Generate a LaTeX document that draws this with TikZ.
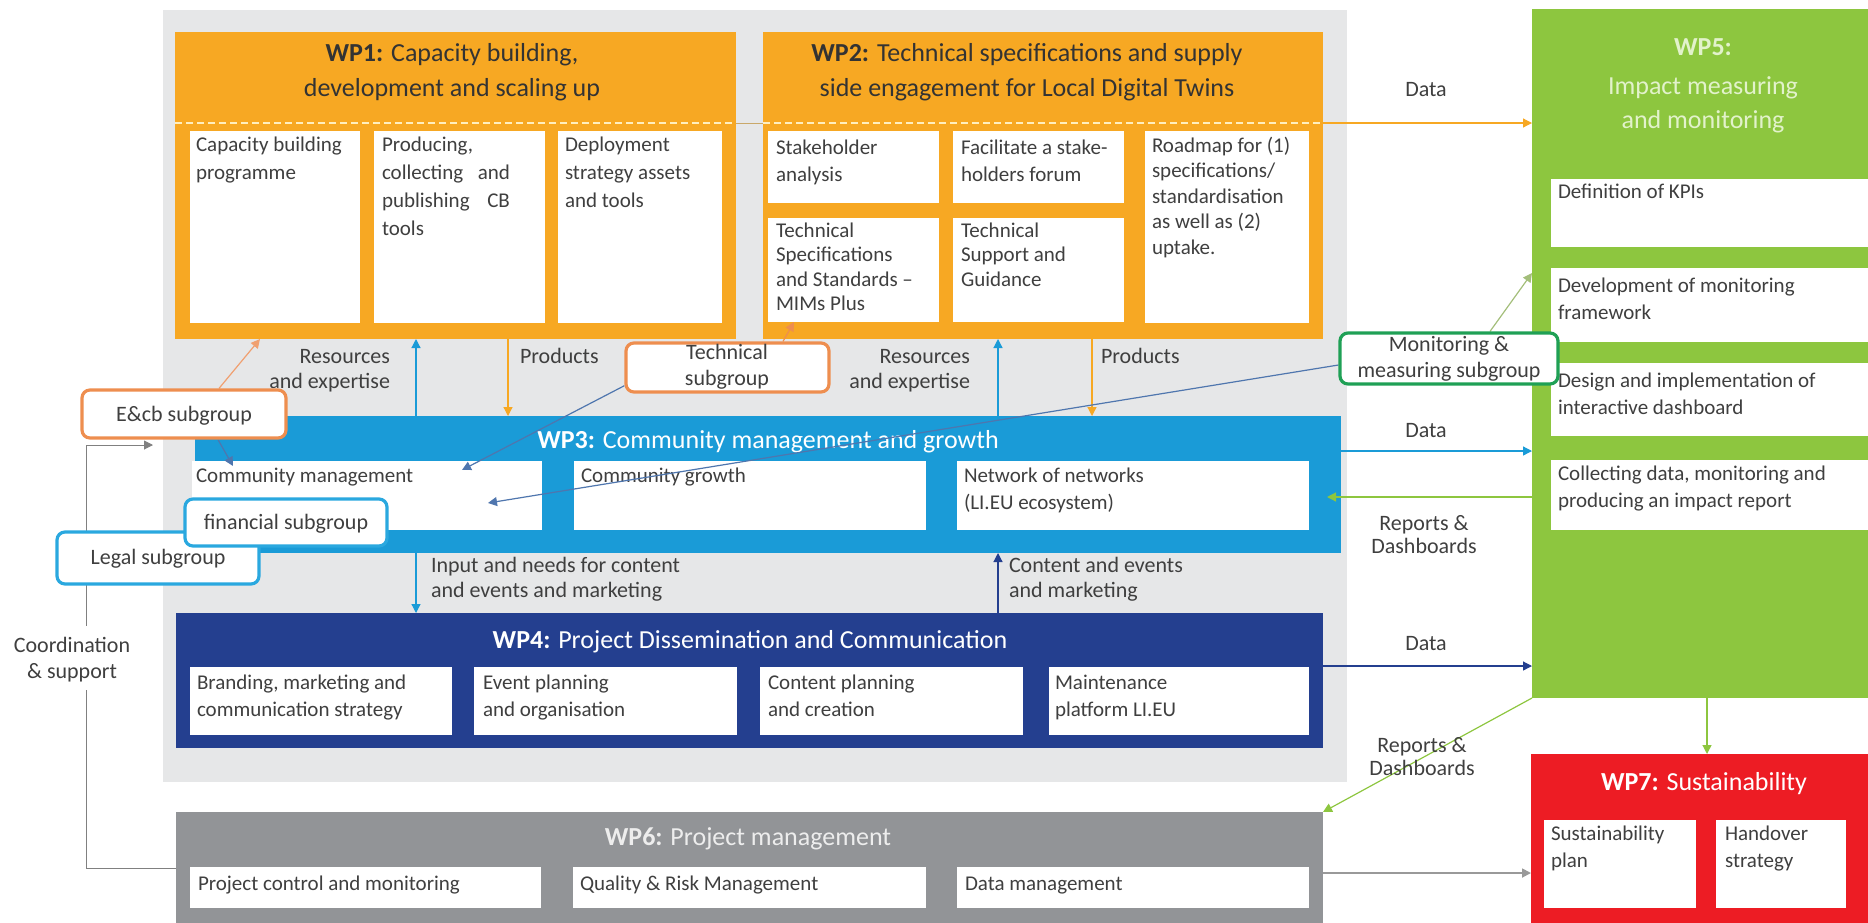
\documentclass[tikz,border=0pt]{standalone}
\usepackage{fontspec}
\setmainfont{Carlito}
\usetikzlibrary{arrows.meta,fit,calc}
\pgfdeclarelayer{front}
\pgfsetlayers{main,front}
\definecolor{wporange}{HTML}{F7A823}
\definecolor{wpblue}{HTML}{1A9BD7}
\definecolor{wpdark}{HTML}{243F8F}
\definecolor{wpgreen}{HTML}{8DC63F}
\definecolor{wpgray}{HTML}{929497}
\definecolor{wpred}{HTML}{ED1C24}
\definecolor{bggray}{HTML}{E6E7E8}
\definecolor{txt}{HTML}{3F3F3F}
\definecolor{ttldark}{HTML}{333333}
\definecolor{sgorange}{HTML}{EE8E4F}
\definecolor{sggreen}{HTML}{1FA055}
\definecolor{sgblue}{HTML}{2AA8DF}
\definecolor{steel}{HTML}{4F76AE}
\definecolor{paleorange}{HTML}{F0A070}
\definecolor{olivegreen}{HTML}{A3BE7A}
\definecolor{linegray}{HTML}{808080}
\definecolor{arrgray}{HTML}{999999}
\definecolor{gapline}{HTML}{C9A86A}
\definecolor{dashcol}{HTML}{FFEFC0}
\definecolor{wp5txt}{HTML}{E2F2CB}
\definecolor{wp6txt}{HTML}{EDEDED}
\newcommand\myrA{\rule{0pt}{8.5pt}}
\newcommand\myrB{\rule{0pt}{9pt}}
\newcommand\myrC{\rule{0pt}{10.5pt}}
\begin{document}
\begin{tikzpicture}[x=0.5pt,y=-0.5pt,
 area/.style={inner sep=0pt, outer sep=0pt, draw=none, rectangle},
 wb/.style={area, fill=white},
 bt/.style={anchor=north west, yshift=8.5pt, inner sep=0pt, outer sep=0pt, align=left, text=txt, font=\fontsize{10.5pt}{13.5pt}\selectfont},
 sp14/.style={font=\fontsize{10.5pt}{14pt}\selectfont},
 sp12/.style={font=\fontsize{10.5pt}{12.25pt}\selectfont},
 sp125/.style={font=\fontsize{10.5pt}{12.75pt}\selectfont},
 lb/.style={anchor=north, yshift=9pt, inner sep=0pt, outer sep=0pt, align=center, text=txt, font=\fontsize{11pt}{12.5pt}\selectfont},
 ttl/.style={anchor=north, yshift=10.5pt, inner sep=0pt, outer sep=0pt, align=center, font=\fontsize{13pt}{17.5pt}\selectfont},
 sg/.style={draw, line width=1.6pt, fill=white, rounded corners=4pt, inner sep=0pt},
 arr/.style={-{Triangle[length=4.5pt,width=4.5pt]}, line width=0.6pt},
]
\useasboundingbox (0,0) rectangle (1868,922);
% work package areas
\node[area, fill=bggray, fit={(163,10) (1347,782)}] (bg) {};
\node[area, fill=wporange, fit={(175,32) (736,339)}] (wp1) {};
\node[area, fill=wporange, fit={(763,32) (1323,339)}] (wp2) {};
\node[area, fill=wpblue, fit={(195,416) (1341,553)}] (wp3) {};
\node[area, fill=wpdark, fit={(176,613) (1323,748)}] (wp4) {};
\node[area, fill=wpgreen, fit={(1532,9) (1880,698)}] (wp5) {};
\node[area, fill=wpgray, fit={(176,812) (1323,935)}] (wp6) {};
\node[area, fill=wpred, fit={(1531,754) (1880,935)}] (wp7) {};
% white boxes
\node[wb, fit={(190,131) (360,323)}] (b11) {};
\node[wb, fit={(374,131) (545,323)}] (b12) {};
\node[wb, fit={(558,131) (722,323)}] (b13) {};
\node[wb, fit={(768,131) (939,203)}] (b21) {};
\node[wb, fit={(953,131) (1124,203)}] (b22) {};
\node[wb, fit={(768,218) (939,322)}] (b23) {};
\node[wb, fit={(953,218) (1124,322)}] (b24) {};
\node[wb, fit={(1145,131) (1309,323)}] (b25) {};
\node[wb, fit={(192,461) (542,530)}] (b31) {};
\node[wb, fit={(574,461) (926,530)}] (b32) {};
\node[wb, fit={(957,461) (1309,530)}] (b33) {};
\node[wb, fit={(190,667) (452,735)}] (b41) {};
\node[wb, fit={(474,667) (737,735)}] (b42) {};
\node[wb, fit={(760,667) (1023,735)}] (b43) {};
\node[wb, fit={(1049,667) (1309,735)}] (b44) {};
\node[wb, fit={(1551,179) (1880,247)}] (b51) {};
\node[wb, fit={(1551,268) (1880,342)}] (b52) {};
\node[wb, fit={(1551,363) (1880,436)}] (b53) {};
\node[wb, fit={(1551,460) (1880,530)}] (b54) {};
\node[wb, fit={(190,867) (541,908)}] (b61) {};
\node[wb, fit={(573,867) (926,908)}] (b62) {};
\node[wb, fit={(957,867) (1309,908)}] (b63) {};
\node[wb, fit={(1544,820) (1696,908)}] (b71) {};
\node[wb, fit={(1716,820) (1846,908)}] (b72) {};
% titles
\node[ttl, text=ttldark] (tt1) at (452,61) {\myrC\textbf{WP1:} Capacity building,\\development and scaling up};
\node[ttl, text=ttldark] (tt2) at (1027,61) {\myrC\textbf{WP2:} Technical specifications and supply\\side engagement for Local Digital Twins};
\node[ttl, text=white] (tt3) at (768,448) {\myrC\textbf{WP3:} Community management and growth};
\node[ttl, text=white] (tt4) at (750,648) {\myrC\textbf{WP4:} Project Dissemination and Communication};
\node[ttl, text=wp5txt, font=\fontsize{13pt}{17pt}\selectfont] (tt5) at (1703,55) {\myrC\textbf{WP5:}\\[2.5pt]Impact measuring\\and monitoring};
\node[ttl, text=wp6txt] (tt6) at (748,845) {\myrC\textbf{WP6:} Project management};
\node[ttl, text=white] (tt7) at (1704,790) {\myrC\textbf{WP7:} Sustainability};
% box texts
\node[bt, sp14] (t11) at (196,151) {\myrA Capacity building\\programme};
\node[bt, sp14] (t12) at (382,151) {\myrA Producing,\\\hbox to 64pt{collecting\hfill and}\\\hbox to 64pt{publishing\hfill CB}\\tools};
\node[bt, sp14] (t13) at (565,151) {\myrA Deployment\\strategy assets\\and tools};
\node[bt] (t21) at (776,154) {\myrA Stakeholder\\analysis};
\node[bt] (t22) at (961,154) {\myrA Facilitate a stake-\\holders forum};
\node[bt, sp12] (t23) at (776,237) {\myrA Technical\\Specifications\\and Standards --\\MIMs Plus};
\node[bt, sp12] (t24) at (961,237) {\myrA Technical\\Support and\\Guidance};
\node[bt, sp125] (t25) at (1152,152) {\myrA Roadmap for (1)\\specifications/\\standardisation\\as well as (2)\\uptake.};
\node[bt] (t31) at (196,482) {\myrA Community management};
\node[bt] (t32) at (581,482) {\myrA Community growth};
\node[bt] (t33) at (964,482) {\myrA Network of networks\\(LI.EU ecosystem)};
\node[bt] (t41) at (197,689) {\myrA Branding, marketing and\\communication strategy};
\node[bt] (t42) at (483,689) {\myrA Event planning\\and organisation};
\node[bt] (t43) at (768,689) {\myrA Content planning\\and creation};
\node[bt] (t44) at (1055,689) {\myrA Maintenance\\platform LI.EU};
\node[bt] (t51) at (1558,198) {\myrA Definition of KPIs};
\node[bt] (t52) at (1558,292) {\myrA Development of monitoring\\framework};
\node[bt] (t53) at (1558,387) {\myrA Design and implementation of\\interactive dashboard};
\node[bt] (t54) at (1558,480) {\myrA Collecting data, monitoring and\\producing an impact report};
\node[bt] (t61) at (198,890) {\myrA Project control and monitoring};
\node[bt] (t62) at (580,890) {\myrA Quality \& Risk Management};
\node[bt] (t63) at (965,890) {\myrA Data management};
\node[bt] (t71) at (1551,840) {\myrA Sustainability\\plan};
\node[bt] (t72) at (1725,840) {\myrA Handover\\strategy};
% main connectors
\draw[dashcol, line width=0.6pt, dash pattern=on 3.5pt off 2pt] (wp1.west |- 0,123) -- (wp1.east |- 0,123);
\draw[dashcol, line width=0.6pt, dash pattern=on 3.5pt off 2pt] (wp2.west |- 0,123) -- (wp2.east |- 0,123);
\draw[gapline, line width=0.5pt] (wp1.east |- 0,123) -- (wp2.west |- 0,123);
\draw[arr, wporange] (wp2.east |- 0,123) -- (wp5.west |- 0,123);
\draw[arr, wpblue] (416,0 |- wp3.north) -- (416,0 |- wp1.south);
\draw[arr, wporange] (508,0 |- wp1.south) -- (508,0 |- wp3.north);
\draw[arr, wpblue] (998,0 |- wp3.north) -- (998,0 |- wp2.south);
\draw[arr, wporange] (1092,0 |- wp2.south) -- (1092,0 |- wp3.north);
\draw[arr, wpblue] (416,0 |- wp3.south) -- (416,0 |- wp4.north);
\draw[arr, wpdark] (998,0 |- wp4.north) -- (998,0 |- wp3.south);
\draw[arr, wpblue] (wp3.east |- 0,451) -- (wp5.west |- 0,451);
\coordinate (rep1end) at (1327,497);
\draw[arr, wpgreen] (wp5.west |- 0,497) -- (rep1end);
\draw[arr, wpdark] (wp4.east |- 0,666) -- (wp5.west |- 0,666);
\draw[arr, wpgreen] (wp5.south west) -- (wp6.north east);
\draw[arr, wpgreen] (1707,0 |- wp5.south) -- (1707,0 |- wp7.north);
\draw[arr, arrgray, line width=0.9pt] (wp6.east |- 0,873) -- (wp7.west |- 0,873);
\coordinate (coordend) at (153,445);
\draw[arr, linegray, line width=0.5pt] (wp6.west |- 0,868) -- (86,868) -- (86,445) -- (coordend);
% labels
\node[lb] (ld1) at (1426,96) {\myrB Data};
\node[lb] (ld2) at (1426,437) {\myrB Data};
\node[lb, font=\fontsize{11pt}{11.5pt}\selectfont] (lr1) at (1424,530) {\myrB Reports \&\\Dashboards};
\node[lb] (ld3) at (1426,650) {\myrB Data};
\node[lb, font=\fontsize{11pt}{11.5pt}\selectfont] (lr2) at (1422,752) {\myrB Reports \&\\Dashboards};
\node[lb, anchor=north east, align=right] (lres1) at (390,363) {\myrB Resources\\and expertise};
\node[lb, anchor=north west, align=left] (lpr1) at (520,363) {\myrB Products};
\node[lb, anchor=north east, align=right] (lres2) at (970,363) {\myrB Resources\\and expertise};
\node[lb, anchor=north west, align=left] (lpr2) at (1101,363) {\myrB Products};
\node[lb, anchor=north west, align=left] (lin) at (431,572) {\myrB Input and needs for content\\and events and marketing};
\node[lb, anchor=north west, align=left] (lcont) at (1009,572) {\myrB Content and events\\and marketing};
\node[lb, fill=white, inner ysep=4pt, yshift=4pt, font=\fontsize{11pt}{13pt}\selectfont] (lcoord) at (72,652) {\myrB Coordination\\\& support};
% subgroups
\begin{pgfonlayer}{front}
\node[sg, draw=sgorange, fit={(82,390) (286,438)}] (ecb) {};
\node[sg, draw=sgorange, fit={(626,343) (829,392)}] (tech) {};
\node[sg, draw=sggreen, fit={(1340,333) (1558,384)}] (mon) {};
\node[sg, draw=sgblue, fit={(57,532) (259,584)}] (legal) {};
\node[lb] (legalt) at (158,564) {\myrB Legal subgroup};
\node[sg, draw=sgblue, fit={(185,499) (387,546)}] (fin) {};
\node[lb] (fint) at (286,529) {\myrB financial subgroup};
\node[lb] (ecbt) at (184,421) {\myrB E\&cb subgroup};
\node[lb, font=\fontsize{11pt}{13pt}\selectfont] (techt) at (727,359) {\myrB Technical\\subgroup};
\node[lb, font=\fontsize{11pt}{13pt}\selectfont] (mont) at (1449,351) {\myrB Monitoring \&\\measuring subgroup};
\end{pgfonlayer}
% subgroup connectors
\coordinate (ecbend) at (233,466);
\coordinate (techend) at (462,470);
\coordinate (monend) at (488,503);
\draw[arr, paleorange] (219,0 |- ecb.north) -- (260,0 |- wp1.south);
\draw[arr, steel] (218,0 |- ecb.south) -- (ecbend);
\draw[arr, steel] (tech.190) -- (techend);
\draw[arr, sgorange] (783,0 |- tech.north) -- (794,0 |- b23.south);
\draw[arr, steel] (mon.west |- 0,365) -- (monend);
\draw[arr, olivegreen] (1490,0 |- mon.north) -- (wp5.west |- 0,273);
\end{tikzpicture}
\end{document}
